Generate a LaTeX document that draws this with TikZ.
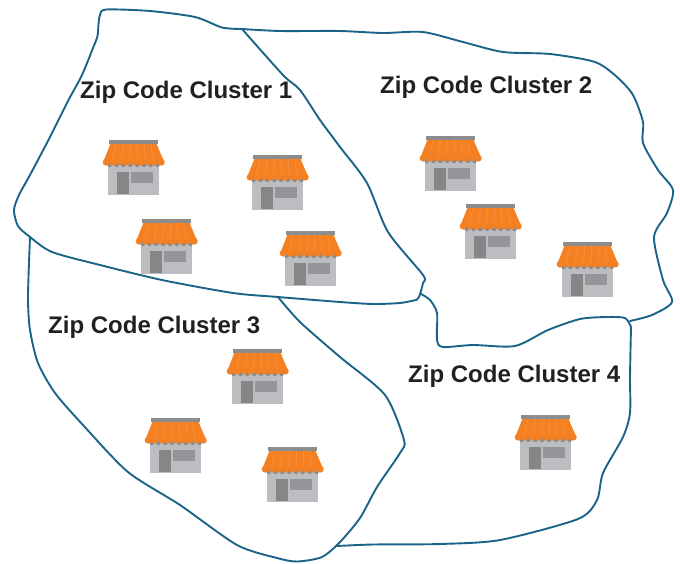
\documentclass[tikz,border=0pt]{standalone}
\usepackage{fontspec}
\setmainfont{Liberation Sans}
\definecolor{bound}{HTML}{1B6488}
\definecolor{ink}{HTML}{231F20}
\definecolor{awn}{HTML}{F58022}
\definecolor{awnl}{HTML}{F79A4E}
\definecolor{wall}{HTML}{BCBDC0}
\definecolor{roofbar}{HTML}{8A8C8E}
\definecolor{doorc}{HTML}{858786}
\definecolor{winc}{HTML}{939598}
\tikzset{
  x=1pt,y=-1pt,
  border/.style={draw=bound,line width=1.9pt,line cap=round,line join=round},
  lab/.style={text=ink,font=\fontsize{24}{28}\selectfont\bfseries,anchor=base west,inner sep=0pt},
  shop/.pic={
    \fill[wall] (-0.7,22) rectangle (50,54.7);
    \fill[doorc] (8,32.3) rectangle (20,53.7);
    \fill[winc] (22,32) rectangle (44,43);
    \fill[roofbar] (0,0) rectangle (49,4.2);
    \fill[roofbar] (0.5,21) rectangle (48.5,25);
    \foreach \i in {0,...,7} {\fill[roofbar] (0.6+6.85*\i,25) circle[radius=2.2];}
    \fill[awn] (1.3,4.2) -- (47.7,4.2) -- (54.6,20.5) -- (54.6,22.8) -- (-5.2,22.8) -- (-5.2,20.5) -- cycle;
    \foreach \i in {0,...,8} {\fill[awn] (-2.9+6.9*\i,22.2) circle[radius=3.45];}
    \foreach \a/\b in {7/3.5,14.3/12.5,21.7/20.5,28.7/28.5,35.3/36,41.7/44} {\draw[awnl,line width=0.4pt] (\a,4.2) -- (\b,20);}
  }
}
\begin{document}
\begin{tikzpicture}
\useasboundingbox (0,0) rectangle (680,563);
\coordinate (j1) at (242,29);
\coordinate (j2) at (30,237);
\coordinate (j3) at (278,297);
\coordinate (j4) at (421,294);
\coordinate (j5) at (630,321);
\coordinate (j6) at (337,546);
% cluster 1 outline
\draw[border] plot[smooth,tension=0.45] coordinates {(j1) (222,27.5) (195,17) (150,11) (106,9.5) (100,15) (98.5,24) (97.5,36) (93,48) (82,75) (68,101) (50,137) (30,175) (19,195) (14,210) (18,226) (j2) (52,252) (100,265) (162,280) (233,293) (j3) (340,302) (373,304) (400,303) (416,300)};
\draw[border] plot[smooth,tension=0.45] coordinates {(416,300) (419,297) (423,283) (423,275) (388,232) (367,183) (340,147) (320,120) (300,90) (283,75) (j1)};
% cluster 2 outline
\draw[border] plot[smooth,tension=0.45] coordinates {(j1) (280,31) (340,31) (383,33) (423,32) (463,42) (503,52) (550,54) (595,62) (617,77) (633,95) (643,122) (643,143) (658,170) (673,190) (667,213) (654,237) (663,280) (672,302) (652,315) (j5)};
\draw[border] plot[smooth,tension=0.45] coordinates {(j4) (430,300) (437,313) (437,340) (443,347) (473,345) (515,346) (548,330) (580,319) (607,317) (625,318) (631,327)};
% cluster 4 outline
\draw[border] plot[smooth,tension=0.45] coordinates {(631,327) (630,377) (630,413) (623,437) (603,473) (597,500) (578,519) (500,540) (440,544) (373,544.5) (j6)};
% cluster 3 outline
\draw[border] plot[smooth,tension=0.45] coordinates {(j3) (300,322) (340,357) (385,395) (404,440) (400,453) (377,487) (360,518) (340,542) (322,557) (297,561.5) (277,558) (237,545) (180,505) (128,472) (83,425) (55,393) (38,363) (30,330) (28,297) (j2)};
% shops
\pic at (109,140) {shop};
\pic at (253,155) {shop};
\pic at (142,219) {shop};
\pic at (286,231) {shop};
\pic at (426,136) {shop};
\pic at (466,204) {shop};
\pic at (563,242) {shop};
\pic at (233,349) {shop};
\pic at (151,418) {shop};
\pic at (268,447) {shop};
\pic at (521,415) {shop};
% labels
\node[lab] (c1) at (80,98) {Zip Code Cluster 1};
\node[lab] (c2) at (380,93) {Zip Code Cluster 2};
\node[lab] (c3) at (48,333) {Zip Code Cluster 3};
\node[lab] (c4) at (408,382) {Zip Code Cluster 4};
\end{tikzpicture}
\end{document}
